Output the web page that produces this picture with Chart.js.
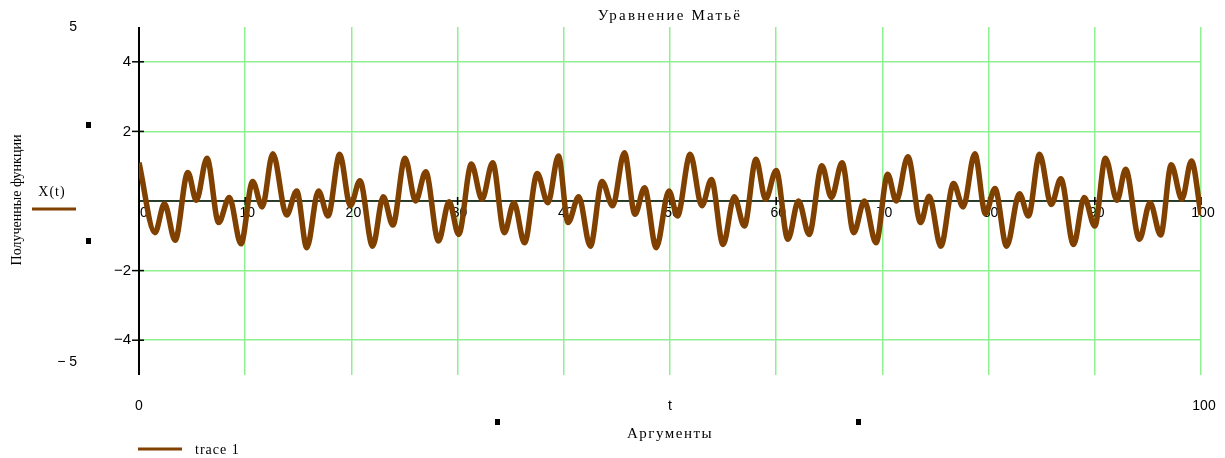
<!DOCTYPE html>
<html lang="ru">
<head>
    <meta charset="UTF-8">
    <title>Уравнение Матьё</title>
    <script src="https://cdn.jsdelivr.net/npm/chart.js@4.4.2/dist/chart.umd.min.js"></script>
    <style>
        body {
          margin: 0;
          padding: 0;
          background-color: #fff;}
        .chart-box {
          width: 1225px;
          height: 458px;}
    </style>
</head>
<body>
    <div class="chart-box">
        <canvas id="mathieuGraph"></canvas>
    </div>

<script>
    // values (extrema of the trace)
    const argT = [0, 1.5, 2.4, 3.4, 4.6, 5.4, 6.4, 7.5, 8.5, 9.6, 10.7, 11.6, 12.6, 13.9, 14.85, 15.8, 16.9, 17.8, 18.9, 19.9,
        20.8, 22.0, 23.0, 23.9, 25.05, 26.05, 27.0, 28.2, 29.2, 30.1, 31.3, 32.3, 33.3, 34.4, 35.3, 36.3, 37.5, 38.5, 39.5, 40.4,
        41.4, 42.5, 43.6, 44.6, 45.7, 46.7, 47.6, 48.7, 49.9, 50.7, 51.9, 53.0, 53.9, 55.0, 56.05, 57.0, 58.1, 59.0, 60.0, 61.1,
        62.1, 63.1, 64.3, 65.2, 66.2, 67.3, 68.3, 69.4, 70.5, 71.3, 72.4, 73.6, 74.4, 75.5, 76.7, 77.6, 78.7, 79.7, 80.6, 81.7,
        82.9, 83.75, 84.8, 85.9, 86.8, 88.0, 89.0, 90.0, 91.0, 92.1, 92.9, 94.2, 95.2, 96.2, 97.2, 98.2, 99.1, 100];
    const funcX = [1.1, -0.91, -0.08, -1.13, 0.82, 0.02, 1.23, -0.62, 0.1, -1.23, 0.56, -0.17, 1.36, -0.4, 0.29, -1.34, 0.29, -0.43, 1.34, -0.14,
        0.58, -1.3, 0.12, -0.69, 1.23, 0.0, 0.84, -1.15, -0.02, -0.96, 1.06, 0.05, 1.1, -0.91, -0.05, -1.2, 0.79, -0.05, 1.29, -0.62,
        0.12, -1.3, 0.56, -0.14, 1.39, -0.38, 0.38, -1.34, 0.29, -0.43, 1.34, -0.14, 0.62, -1.25, 0.12, -0.72, 1.2, 0.05, 0.88, -1.1,
        0.0, -0.96, 1.01, 0.1, 1.1, -0.91, 0.0, -1.2, 0.77, 0.0, 1.27, -0.62, 0.14, -1.3, 0.5, -0.17, 1.36, -0.36, 0.36, -1.3,
        0.21, -0.43, 1.34, -0.1, 0.64, -1.25, 0.1, -0.72, 1.23, 0.02, 0.91, -1.1, -0.05, -0.98, 1.04, 0.05, 1.15, -0.4];
    const xTicks = [0, 10, 20, 30, 40, 50, 60, 70, 80, 90, 100];
    const yTicks = [4, 2, -2, -4];
    const xRange = [0, 100];
    const yRange = [-5, 5];

    const brown = '#804000';
    const gridGreen = '#8ff08f';
    const serif = '"Liberation Serif", "DejaVu Serif", serif';
    const sans = '"Liberation Sans", Arial, sans-serif';

    function text(ctx, str, x, y, font, align, spacing) {
        ctx.save();
        ctx.font = font;
        ctx.fillStyle = '#000';
        ctx.textAlign = align || 'center';
        ctx.textBaseline = 'middle';
        ctx.letterSpacing = (spacing || 0) + 'px';
        ctx.fillText(str, x, y);
        ctx.restore();}

    function fmt(v) {
        return v < 0 ? '\u2212' + Math.abs(v) : String(v);}

    // black axes, tick marks and tick labels go under the trace
    const axesUnder = {
        id: 'axesUnder',
        beforeDatasetsDraw(chart) {
            const ctx = chart.ctx;
            const xs = chart.scales.x, ys = chart.scales.y;
            const y0 = ys.getPixelForValue(0);
            const x0 = xs.getPixelForValue(0);
            ctx.save();
            ctx.strokeStyle = '#000';
            ctx.lineWidth = 1.5;
            ctx.beginPath();
            ctx.moveTo(xs.left, y0);
            ctx.lineTo(xs.right, y0);
            ctx.stroke();
            ctx.lineWidth = 2;
            ctx.beginPath();
            ctx.moveTo(x0, ys.top);
            ctx.lineTo(x0, ys.bottom);
            ctx.stroke();
            ctx.lineWidth = 1.5;
            xTicks.forEach(t => {
                const px = xs.getPixelForValue(t);
                ctx.beginPath();
                ctx.moveTo(px, y0 - 4);
                ctx.lineTo(px, y0 + 4);
                ctx.stroke();
                text(ctx, String(t), px + (t === 0 ? 5 : 2), y0 + 12, '14px ' + sans);});
            yTicks.forEach(v => {
                const py = ys.getPixelForValue(v);
                ctx.beginPath();
                ctx.moveTo(x0 - 7, py);
                ctx.lineTo(x0 + 5, py);
                ctx.stroke();
                text(ctx, fmt(v), x0 - 8, py, '15px ' + sans, 'right');});
            ctx.restore();}};

    // everything else that Mathcad puts round the plot
    const decorations = {
        id: 'decorations',
        afterDraw(chart) {
            const ctx = chart.ctx;
            const xs = chart.scales.x, ys = chart.scales.y;
            const mid = (xs.left + xs.right) / 2;
            text(ctx, 'Уравнение Матьё', mid, 16, '15px ' + serif, 'center', 2.2);
            text(ctx, 'Аргументы', mid, 434, '15px ' + serif, 'center', 1.5);
            text(ctx, 't', mid, 406, '14px ' + sans);
            text(ctx, String(xRange[0]), xs.left, 406, '14px ' + sans);
            text(ctx, String(xRange[1]), xs.right + 3, 406, '14px ' + sans);
            text(ctx, String(yRange[1]), 77, 27, '14px ' + sans, 'right');
            text(ctx, '\u2212 5', 77, 362, '14px ' + sans, 'right');

            ctx.save();
            ctx.translate(17, 200);
            ctx.rotate(-Math.PI / 2);
            text(ctx, 'Полученные функции', 0, 0, '14px ' + serif);
            ctx.restore();

            text(ctx, 'X(t)', 52, 192, '14px ' + serif, 'center', 1);
            text(ctx, 'trace 1', 195, 450, '14px ' + serif, 'left', 1);
            ctx.save();
            ctx.strokeStyle = brown;
            ctx.lineWidth = 3;
            ctx.beginPath();
            ctx.moveTo(32, 209);
            ctx.lineTo(76, 209);
            ctx.moveTo(138, 449);
            ctx.lineTo(182, 449);
            ctx.stroke();
            ctx.fillStyle = '#000';
            [[86, 122], [86, 238], [495, 419], [856, 419]].forEach(p => ctx.fillRect(p[0], p[1], 5, 6));
            ctx.restore();}};

    const ctx = document.getElementById('mathieuGraph').getContext('2d');
    const mathieuGraph = new Chart(ctx, {
        type: 'line',
        data: {
            datasets: [{
                label: 'X(t)',
                data: argT.map((t, i) => ({x: t, y: funcX[i]})),
                borderColor: brown,
                borderWidth: 5.5,
                pointRadius: 0,
                cubicInterpolationMode: 'monotone',
                fill: false}]},
        options: {
            responsive: true,
            maintainAspectRatio: false,
            animation: false,
            layout: {
                padding: {left: 139, right: 24, top: 27, bottom: 83}},
            scales: {
                x: {
                    type: 'linear',
                    min: xRange[0],
                    max: xRange[1],
                    afterFit: s => { s.height = 0; },
                    afterBuildTicks: s => { s.ticks = xTicks.map(v => ({value: v})); },
                    border: {display: false},
                    ticks: {display: false},
                    grid: {color: gridGreen, lineWidth: 1.5, drawTicks: false}},
                y: {
                    min: yRange[0],
                    max: yRange[1],
                    afterFit: s => { s.width = 0; },
                    afterBuildTicks: s => { s.ticks = yTicks.concat([0]).map(v => ({value: v})); },
                    border: {display: false},
                    ticks: {display: false},
                    grid: {color: gridGreen, lineWidth: 1.5, drawTicks: false}}},
            plugins: {
                legend: {display: false},
                tooltip: {enabled: false},
                title: {display: false}}},
        plugins: [axesUnder, decorations]});
</script>
</body>
</html>
